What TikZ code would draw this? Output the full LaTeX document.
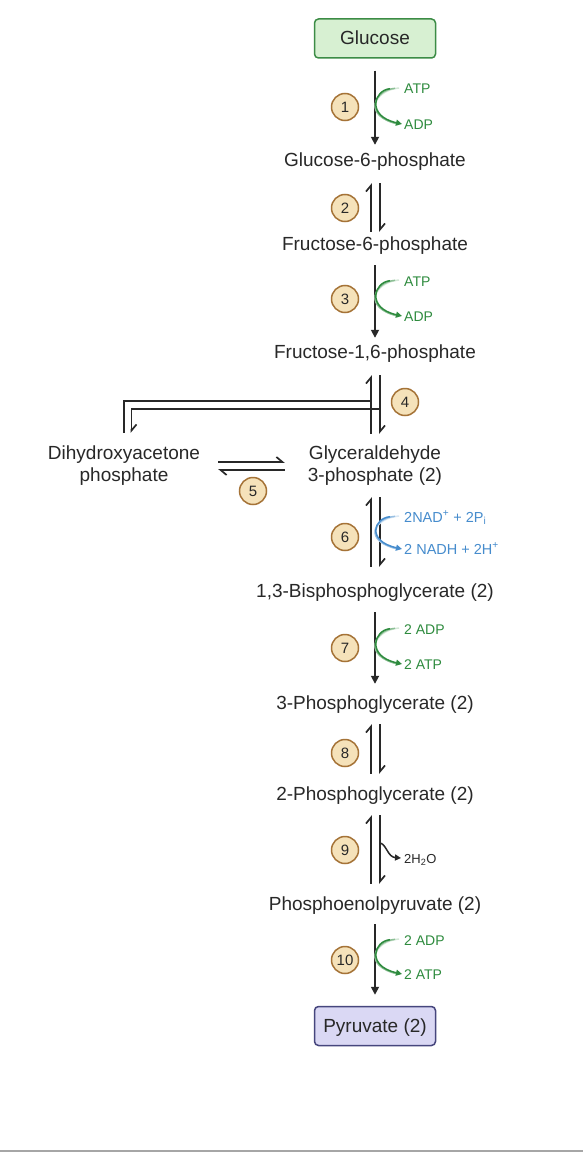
\documentclass[tikz,border=0pt]{standalone}
\usepackage{fontspec}
\setmainfont{Liberation Sans}
\usetikzlibrary{arrows.meta,calc}
\definecolor{dark}{RGB}{40,40,40}
\definecolor{cgreen}{RGB}{46,139,62}
\definecolor{cblue}{RGB}{70,140,205}
\definecolor{cfill}{RGB}{245,226,186}
\definecolor{cring}{RGB}{165,115,55}
\definecolor{gfill}{RGB}{215,240,210}
\definecolor{gline}{RGB}{60,140,70}
\definecolor{pfill}{RGB}{218,216,244}
\definecolor{pline}{RGB}{70,70,125}
\newcommand\eqpair[4]{%
  \draw[harp] ($(#2.north)+(-4,-#4)$) -- ($(#1.south)+(-4,#3)$);
  \draw[harp] ($(#1.south)+(5,#3)$) -- ($(#2.north)+(5,-#4)$);}
% faded cofactor curve: colour, from-node, to-node
\newcommand\cofcurve[3]{%
  \draw[#1!20, line width=1.5pt] ($(#2.west)+(-5,-1)$) .. controls +(-25,2) and +(-36,-8) .. ($(#3.west)+(-6,0)$);
  \draw[#1!55, line width=1.5pt, shorten <=4pt] ($(#2.west)+(-5,-1)$) .. controls +(-25,2) and +(-36,-8) .. ($(#3.west)+(-6,0)$);
  \draw[cofarrow, #1, shorten <=9pt] ($(#2.west)+(-5,-1)$) .. controls +(-25,2) and +(-36,-8) .. ($(#3.west)+(-2,0)$);}
\begin{document}
\begin{tikzpicture}[x=1pt,y=-1pt,
  metab/.style={inner sep=0pt, text height=13pt, text depth=0pt, font=\fontsize{19}{22}\selectfont, text=dark},
  twoline/.style={metab, align=center, text height=35pt, text depth=0pt},
  box/.style={metab, rounded corners=4pt, line width=1.5pt, minimum width=121pt, minimum height=39pt},
  stepnum/.style={circle, draw=cring, fill=cfill, line width=1.5pt, minimum size=27pt, inner sep=0pt, font=\fontsize{15}{15}\selectfont, text=dark},
  cof/.style={inner sep=0pt, anchor=west, text height=10pt, text depth=0pt, font=\fontsize{14}{14}\selectfont},
  main/.style={draw=dark, line width=1.7pt, -{Triangle[length=8pt,width=8pt]}},
  harp/.style={draw=dark, line width=1.7pt, -{Straight Barb[harpoon,length=6pt,width=10pt]}},
  plain/.style={draw=dark, line width=1.7pt},
  cofarrow/.style={line width=1.5pt, -{Triangle[length=6pt,width=6pt]}},
]
\fill[white] (0,0) rectangle (583,1153);
\useasboundingbox (0,0) rectangle (583,1153);
\draw[black!35, line width=1.5pt] (0,1151) -- (583,1151);

% metabolites
\node[box, fill=gfill, draw=gline] (glc) at (375,38.5) {Glucose};
\node[metab] (g6p) at (375,160) {Glucose-6-phosphate};
\node[metab] (f6p) at (375,244) {Fructose-6-phosphate};
\node[metab] (f16p) at (375,352) {Fructose-1,6-phosphate};
\node[twoline] (g3p) at (375,464) {Glyceraldehyde\\3-phosphate (2)};
\node[twoline] (dhap) at (124,464) {Dihydroxyacetone\\phosphate};
\node[metab] (bpg) at (375,591) {1,3-Bisphosphoglycerate (2)};
\node[metab] (pg3) at (375,703) {3-Phosphoglycerate (2)};
\node[metab] (pg2) at (375,794) {2-Phosphoglycerate (2)};
\node[metab] (pep) at (375,904) {Phosphoenolpyruvate (2)};
\node[box, fill=pfill, draw=pline] (pyr) at (375,1026) {Pyruvate (2)};

% step numbers
\node[stepnum] (s1) at (345,107) {1};
\node[stepnum] (s2) at (345,208) {2};
\node[stepnum] (s3) at (345,299) {3};
\node[stepnum] (s4) at (405,402) {4};
\node[stepnum] (s5) at (253,491) {5};
\node[stepnum] (s6) at (345,537) {6};
\node[stepnum] (s7) at (345,648) {7};
\node[stepnum] (s8) at (345,753) {8};
\node[stepnum] (s9) at (345,850) {9};
\node[stepnum] (s10) at (345,960) {10};

% main arrows
\draw[main] ($(glc.south)+(0,12)$) -- ($(g6p.north)+(0,-8.5)$);
\draw[main] ($(f6p.south)+(0,14.5)$) -- ($(f16p.north)+(0,-7.5)$);
\draw[main] ($(bpg.south)+(0,14.5)$) -- ($(pg3.north)+(0,-12.5)$);
\draw[main] ($(pep.south)+(0,13.5)$) -- ($(pyr.north)+(0,-11)$);

% equilibria
\eqpair{g6p}{f6p}{16.5}{5.5}
\eqpair{f16p}{g3p}{16.5}{12.5}
\eqpair{g3p}{bpg}{15.5}{17.5}
\eqpair{pg3}{pg2}{14.5}{13.5}
\eqpair{pg2}{pep}{14.5}{13.5}

% bracket to DHAP
\coordinate (b4o) at ($(f16p.south)+(-4,42.5)$);
\coordinate (b4i) at ($(f16p.south)+(5,50.5)$);
\draw[plain] (b4o) -| ($(dhap.north)+(0,-13.5)$);
\draw[harp] (b4i) -| ($(dhap.north)+(7.5,-13.5)$);

% step 5
\draw[harp] ($(dhap.east)+(18,-2)$) -- ($(g3p.west)+(-23,-2)$);
\draw[harp] ($(g3p.west)+(-23,6)$) -- ($(dhap.east)+(18,6)$);

% cofactors
\node[cof, text=cgreen] (atp1) at (404,89) {ATP};
\node[cof, text=cgreen] (adp1) at (404,124) {ADP};
\cofcurve{cgreen}{atp1}{adp1}

\node[cof, text=cgreen] (atp3) at (404,281) {ATP};
\node[cof, text=cgreen] (adp3) at (404,316) {ADP};
\cofcurve{cgreen}{atp3}{adp3}

\node[cof, text=cblue, font=\fontsize{14.5}{14.5}\selectfont] (nad) at (404,517) {2NAD\textsuperscript{+} + 2P\textsubscript{i}};
\node[cof, text=cblue, font=\fontsize{14.5}{14.5}\selectfont] (nadh) at (404,549) {2 NADH + 2H\textsuperscript{+}};
\cofcurve{cblue}{nad}{nadh}

\node[cof, text=cgreen] (adp7) at (404,629) {2 ADP};
\node[cof, text=cgreen] (atp7) at (404,664) {2 ATP};
\cofcurve{cgreen}{adp7}{atp7}

\node[cof, text=dark, font=\fontsize{13}{13}\selectfont] (h2o) at (404,858) {2H\textsubscript{2}O};
\draw[cofarrow, dark] ($(pg2.south)+(6,42.5)$) .. controls +(6,3) and +(-13,-1) .. ($(h2o.west)+(-3,0)$);

\node[cof, text=cgreen] (adp10) at (404,940) {2 ADP};
\node[cof, text=cgreen] (atp10) at (404,974) {2 ATP};
\cofcurve{cgreen}{adp10}{atp10}
\end{tikzpicture}
\end{document}
